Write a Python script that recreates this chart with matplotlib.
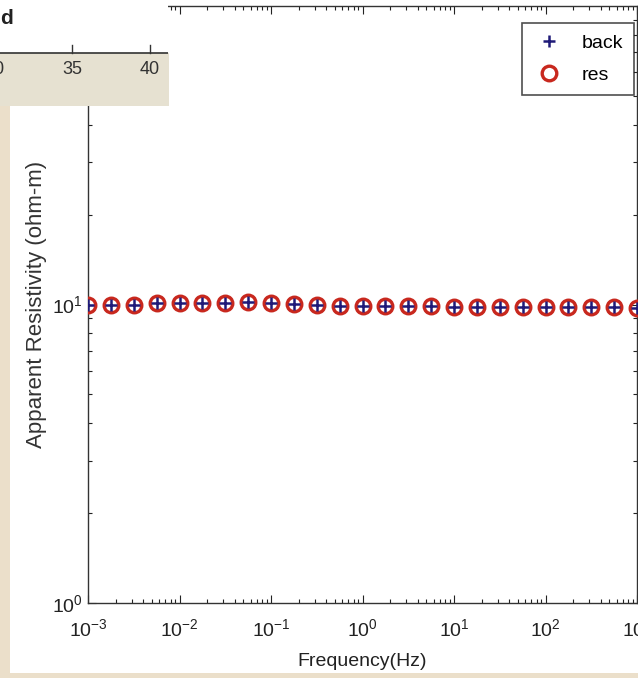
import matplotlib
matplotlib.use("Agg")
import matplotlib.pyplot as plt
import numpy as np
from matplotlib.patches import Rectangle
from matplotlib.ticker import LogLocator, NullFormatter

plt.rcParams['font.family'] = ['Liberation Sans', 'DejaVu Sans']
plt.rcParams['mathtext.fontset'] = 'custom'
plt.rcParams['mathtext.rm'] = 'Liberation Sans'
plt.rcParams['mathtext.it'] = 'Liberation Sans'

# Frequencies: four per decade from 1e-3 to 1e3 Hz
log_freq = [-3.0, -2.75, -2.5, -2.25, -2.0, -1.75, -1.5, -1.25, -1.0, -0.75, -0.5, -0.25,
            0.0, 0.25, 0.5, 0.75, 1.0, 1.25, 1.5, 1.75, 2.0, 2.25, 2.5, 2.75, 3.0]
back_rho = [10.0, 10.0, 10.0, 10.1, 10.1, 10.1, 10.1, 10.2, 10.1, 10.05, 10.0, 9.9,
            9.85, 9.85, 9.85, 9.85, 9.8, 9.8, 9.8, 9.8, 9.8, 9.8, 9.8, 9.8, 9.75]
res_rho = [10.0, 10.0, 10.0, 10.1, 10.1, 10.1, 10.1, 10.2, 10.1, 10.05, 10.0, 9.9,
           9.85, 9.85, 9.85, 9.85, 9.8, 9.8, 9.8, 9.8, 9.8, 9.8, 9.8, 9.8, 9.75]
series_names = ['back', 'res']
x_ticks = [1e-3, 1e-2, 1e-1, 1e0, 1e1, 1e2, 1e3]
x_tick_labels = [r'$\mathregular{10^{-3}}$', r'$\mathregular{10^{-2}}$', r'$\mathregular{10^{-1}}$',
                 r'$\mathregular{10^{0}}$', r'$\mathregular{10^{1}}$', r'$\mathregular{10^{2}}$',
                 r'$\mathregular{10^{3}}$']
y_ticks = [1e0, 1e1, 1e2]
y_tick_labels = [r'$\mathregular{10^{0}}$', r'$\mathregular{10^{1}}$', r'$\mathregular{10^{2}}$']

# Neighbouring panel strip (axis values)
strip_ticks = [30, 35, 40]
strip_tick_labels = ['30', '35', '40']

W, H = 638, 678
fig = plt.figure(figsize=(W / 100, H / 100), dpi=100, facecolor='#ebdfca')

# white page area behind the plot
fig.patches.append(Rectangle((10 / W, 5 / H), 1 - 10 / W, 1 - 5 / H,
                             transform=fig.transFigure, facecolor='white',
                             edgecolor='none', zorder=-10))

ax = fig.add_axes([88 / W, 1 - 603 / H, (637 - 88) / W, (603 - 6) / H])
ax.set_zorder(1)
freq = np.power(10.0, log_freq)
ax.plot(freq, back_rho, linestyle='none', marker='+', markersize=9, mew=1.8,
        color='#1f1a78', label=series_names[0], zorder=4)
ax.plot(freq, res_rho, linestyle='none', marker='o', markersize=10.5, mew=2.4,
        markerfacecolor='none', markeredgecolor='#c8281e', label=series_names[1], zorder=3)

ax.set_xscale('log')
ax.set_yscale('log')
ax.set_xlim(1e-3, 1e3)
ax.set_ylim(1, 100)
ax.set_xticks(x_ticks)
ax.set_xticklabels(x_tick_labels)
ax.set_yticks(y_ticks)
ax.set_yticklabels(y_tick_labels)
ax.xaxis.set_minor_locator(LogLocator(base=10, subs=np.arange(2, 10)))
ax.yaxis.set_minor_locator(LogLocator(base=10, subs=np.arange(2, 10)))
ax.xaxis.set_minor_formatter(NullFormatter())
ax.yaxis.set_minor_formatter(NullFormatter())
ax.tick_params(which='both', direction='in', top=True, right=True, labelsize=14, colors='#222222')
ax.tick_params(which='major', length=6, width=0.8)
ax.tick_params(which='minor', length=3, width=0.8)
ax.tick_params(axis='x', pad=11)
ax.tick_params(axis='y', pad=4)
for s in ax.spines.values():
    s.set_linewidth(1.0)
    s.set_color('#333333')

ax.set_xlabel('Frequency(Hz)', fontsize=14, labelpad=9, color='#222222')
ax.set_ylabel('Apparent Resistivity (ohm-m)', fontsize=16, labelpad=3, color='#333333')

leg = ax.legend(loc='upper right', bbox_to_anchor=(0.9945, 0.971), fontsize=14,
                frameon=True, fancybox=False, borderpad=0.55, handletextpad=0.9,
                labelspacing=0.75, handlelength=1.6, borderaxespad=0.0)
leg.get_frame().set_edgecolor('#222222')
leg.get_frame().set_linewidth(1.2)

# piece of the neighbouring panel at the top-left corner
sx = fig.add_axes([0, 1 - 105 / H, 168 / W, 105 / H])
sx.set_zorder(5)
sx.set_xlim(30.38, 41.15)
sx.set_ylim(0, 1)
sx.set_facecolor('white')
sx.fill_between([30.38, 41.15], [0, 0], [0.5, 0.5], color='#e6e1d1', zorder=1)
sx.axhline(0.5, color='#333333', lw=1.2, zorder=3)
for t, lab in zip(strip_ticks, strip_tick_labels):
    sx.plot([t, t], [0.5, 0.57], color='#333333', lw=1.0, zorder=3, clip_on=False)
    sx.text(t, 0.42, lab, ha='center', va='top', fontsize=13, color='#333333', zorder=4)
sx.text(30.4, 0.82, 'd', ha='left', va='center', fontsize=15, fontweight='bold',
        color='#222222')
sx.set_xticks([])
sx.set_yticks([])
for s in sx.spines.values():
    s.set_visible(False)

fig.savefig('out.png', dpi=100, facecolor=fig.get_facecolor())
